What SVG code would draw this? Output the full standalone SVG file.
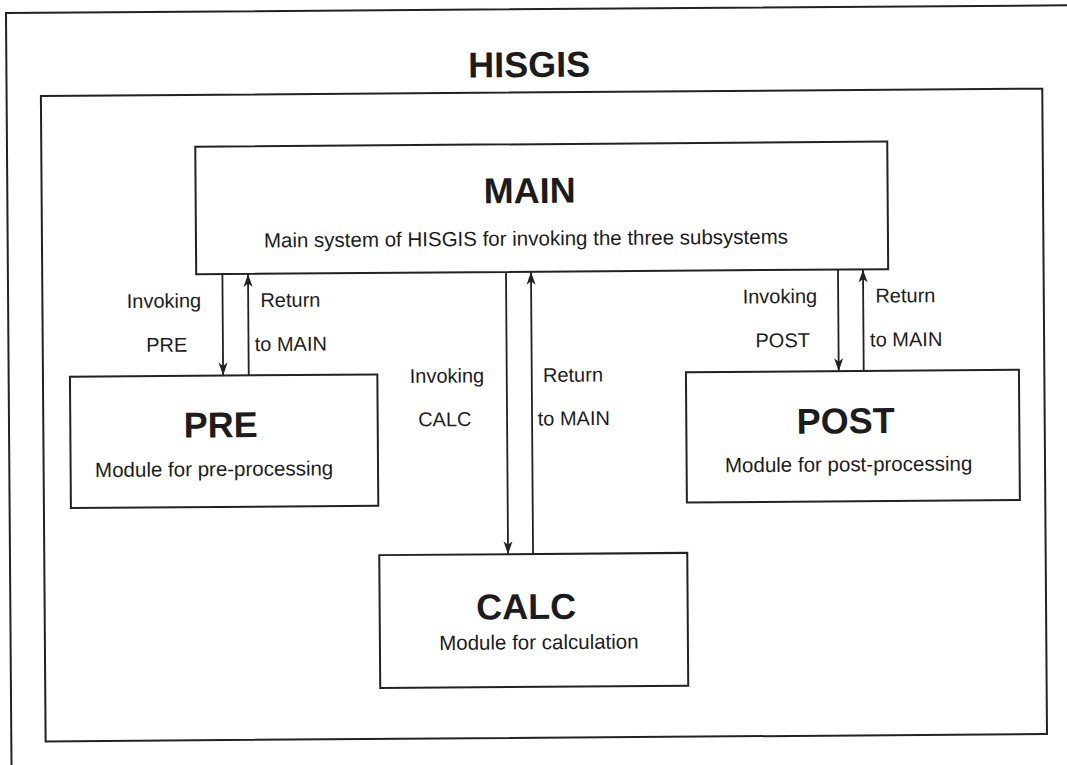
<svg xmlns="http://www.w3.org/2000/svg" width="1067" height="765" viewBox="0 0 1067 765">
  <style>
    .frame { fill: none; stroke: #222; stroke-width: 2; }
    .box { fill: #fff; stroke: #222; stroke-width: 2; }
    .title { font-family: "Liberation Sans", Arial, sans-serif; font-weight: bold; font-size: 36px; fill: #1c1c1c; text-anchor: middle; }
    .sub { font-family: "Liberation Sans", Arial, sans-serif; font-size: 20.5px; fill: #1c1c1c; text-anchor: middle; }
    .lbl { font-family: "Liberation Sans", Arial, sans-serif; font-size: 20px; fill: #1c1c1c; text-anchor: middle; }
    .conn { stroke: #222; stroke-width: 1.8; fill: none; marker-end: url(#ah); }
  </style>
  <defs>
    <marker id="ah" markerUnits="userSpaceOnUse" viewBox="-14 -6 16 12" refX="0" refY="0" markerWidth="16" markerHeight="12" orient="auto">
      <path d="M0,0 L-13,-4.5 L-9.5,0 L-13,4.5 Z" fill="#222"/>
    </marker>
  </defs>
  <rect x="0" y="0" width="1067" height="765" fill="#fff"/>
  <g transform="rotate(-0.42 533 382)">
    <g id="outer-frame">
      <path class="frame" d="M1100,9.2 H8.7 V800"/>
    </g>
    <g id="hisgis">
      <rect class="frame" x="43" y="92.4" width="1001.4" height="645.4"/>
      <text class="title" x="531.5" y="77">HISGIS</text>
    </g>
    <g id="connectors">
      <line class="conn" x1="223.2" y1="272" x2="223.2" y2="373.3"/>
      <line class="conn" x1="248.8" y1="373.3" x2="248.8" y2="271.8"/>
      <line class="conn" x1="506.8" y1="272" x2="506.8" y2="554"/>
      <line class="conn" x1="531.8" y1="554" x2="531.8" y2="271.8"/>
      <line class="conn" x1="838.8" y1="272" x2="838.8" y2="373.4"/>
      <line class="conn" x1="863.8" y1="373.4" x2="863.8" y2="271.8"/>
      <text class="lbl" x="164.5" y="305">Invoking</text>
      <text class="lbl" x="167" y="349">PRE</text>
      <text class="lbl" x="291" y="305">Return</text>
      <text class="lbl" x="291" y="349">to MAIN</text>
      <text class="lbl" x="447" y="382">Invoking</text>
      <text class="lbl" x="444.5" y="425.5">CALC</text>
      <text class="lbl" x="573" y="382">Return</text>
      <text class="lbl" x="573.5" y="425.5">to MAIN</text>
      <text class="lbl" x="780.5" y="305">Invoking</text>
      <text class="lbl" x="783" y="349">POST</text>
      <text class="lbl" x="906" y="305">Return</text>
      <text class="lbl" x="906.5" y="349">to MAIN</text>
    </g>
    <g id="main">
      <rect class="box" x="197" y="144.2" width="692" height="127.6"/>
      <text class="title" x="531" y="203">MAIN</text>
      <text class="sub" x="527" y="245.5">Main system of HISGIS for invoking the three subsystems</text>
    </g>
    <g id="pre">
      <rect class="box" x="70" y="373.3" width="307.4" height="131.3"/>
      <text class="title" x="220.4" y="435">PRE</text>
      <text class="sub" x="213.5" y="473.8">Module for pre-processing</text>
    </g>
    <g id="post">
      <rect class="box" x="686" y="373.4" width="333" height="130.2"/>
      <text class="title" x="845.4" y="435.6">POST</text>
      <text class="sub" x="848" y="473.7">Module for post-processing</text>
    </g>
    <g id="calc">
      <rect class="box" x="378" y="554" width="308" height="132.8"/>
      <text class="title" x="524.5" y="619">CALC</text>
      <text class="sub" x="537" y="649.3">Module for calculation</text>
    </g>
  </g>
</svg>
